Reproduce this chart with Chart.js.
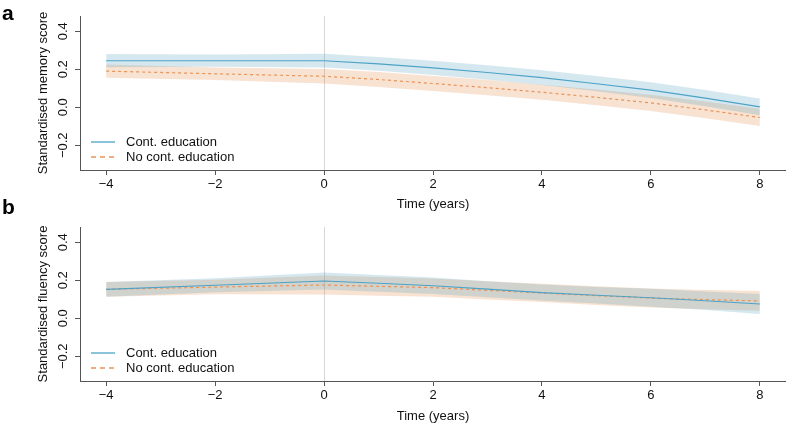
<!DOCTYPE html>
<html>
<head>
<meta charset="utf-8">
<script src="https://cdn.jsdelivr.net/npm/chart.js@4.4.1/dist/chart.umd.min.js"></script>
<style>
  body { margin: 0; background: #fff; }
  #wrap { position: relative; width: 786px; height: 424px; font-family: "Liberation Sans", Arial, sans-serif; }
  .panel { position: absolute; left: 0; width: 786px; height: 212px; }
  .letter { position: absolute; left: 2px; font-weight: bold; font-size: 21px; line-height: 1; color: #000; }
</style>
</head>
<body>
<div id="wrap">
  <div class="panel" style="top:0"><canvas id="chart-a" width="786" height="212"></canvas></div>
  <div class="panel" style="top:212px"><canvas id="chart-b" width="786" height="212"></canvas></div>
  <div class="letter" style="top:2px">a</div>
  <div class="letter" style="top:196px">b</div>
</div>
<script>
// datos
const time = [-4, -2, 0, 1, 2, 3, 4, 5, 6, 7, 8];
const xTicks = [-4, -2, 0, 2, 4, 6, 8];
const yTicks = [-0.2, 0, 0.2, 0.4];
const seriesNames = ["Cont. education", "No cont. education"];

// panel a - memoria
const memCont   = [0.245, 0.245, 0.245, 0.228, 0.207, 0.183, 0.156, 0.124, 0.090, 0.048, 0.002];
const memContLo = [0.210, 0.213, 0.209, 0.192, 0.170, 0.145, 0.117, 0.084, 0.049, 0.005, -0.042];
const memContHi = [0.280, 0.277, 0.281, 0.264, 0.244, 0.221, 0.195, 0.164, 0.131, 0.091, 0.046];
const memNo     = [0.190, 0.176, 0.163, 0.146, 0.125, 0.103, 0.079, 0.052, 0.023, -0.014, -0.054];
const memNoLo   = [0.155, 0.143, 0.125, 0.107, 0.086, 0.063, 0.039, 0.010, -0.020, -0.058, -0.099];
const memNoHi   = [0.225, 0.209, 0.201, 0.185, 0.164, 0.143, 0.119, 0.094, 0.066, 0.030, -0.008];

// panel b - fluidez
const fluCont   = [0.152, 0.174, 0.196, 0.184, 0.171, 0.153, 0.135, 0.121, 0.108, 0.092, 0.075];
const fluContLo = [0.113, 0.137, 0.151, 0.140, 0.128, 0.111, 0.093, 0.077, 0.061, 0.043, 0.023];
const fluContHi = [0.191, 0.211, 0.241, 0.228, 0.214, 0.195, 0.177, 0.165, 0.155, 0.141, 0.127];
const fluNo     = [0.152, 0.164, 0.175, 0.168, 0.161, 0.147, 0.133, 0.119, 0.106, 0.098, 0.091];
const fluNoLo   = [0.113, 0.126, 0.125, 0.119, 0.113, 0.099, 0.085, 0.070, 0.056, 0.047, 0.039];
const fluNoHi   = [0.191, 0.202, 0.225, 0.217, 0.209, 0.195, 0.181, 0.168, 0.156, 0.149, 0.143];

const FONT = "'Liberation Sans', Arial, sans-serif";
const MINUS = "\u2212";

function fmtX(v) {
    return v < 0 ? MINUS + Math.abs(v) : String(v);
}
function fmtY(v) {
    return v < 0 ? MINUS + Math.abs(v).toFixed(1) : v.toFixed(1);
}

// etiquetas del eje y (rotadas) y leyenda dentro del area
const panelText = {
    id: "panelText",
    afterDraw(chart) {
        const ctx = chart.ctx;
        const ys = chart.scales.y;
        const area = chart.chartArea;
        ctx.save();
        ctx.fillStyle = "#111";
        ctx.font = "13px " + FONT;
        ctx.textAlign = "center";
        ctx.textBaseline = "middle";
        yTicks.forEach((v) => {
            ctx.save();
            ctx.translate(63, ys.getPixelForValue(v));
            ctx.rotate(-Math.PI / 2);
            ctx.fillText(fmtY(v), 0, 0);
            ctx.restore();
        });

        // leyenda
        const ds = chart.data.datasets;
        ctx.textAlign = "left";
        [0, 1].forEach((i) => {
            const y = area.bottom - 28 + i * 15;
            ctx.beginPath();
            ctx.strokeStyle = ds[i].borderColor;
            ctx.lineWidth = 1.3;
            ctx.setLineDash(i === 0 ? [] : [5, 4]);
            ctx.moveTo(area.left + 11, y);
            ctx.lineTo(area.left + 35, y);
            ctx.stroke();
            ctx.setLineDash([]);
            ctx.fillStyle = "#111";
            ctx.fillText(ds[i].label, area.left + 46, y);
        });
        ctx.restore();
    }
};

function makeChart(id, yTitle, cont, contLo, contHi, noEd, noLo, noHi, topPad) {
    const pts = (arr) => time.map((t, i) => ({ x: t, y: arr[i] }));
    const band = (arr, color, fill, order) => ({
        data: pts(arr),
        borderColor: "rgba(0,0,0,0)",
        borderWidth: 0,
        pointRadius: 0,
        backgroundColor: color,
        fill: fill,
        order: order
    });

    new Chart(document.getElementById(id), {
        type: "line",
        data: {
            datasets: [
                { label: seriesNames[0], data: pts(cont), borderColor: "#4da3c7", borderWidth: 1.1,
                  pointRadius: 0, fill: false, order: 0 },
                { label: seriesNames[1], data: pts(noEd), borderColor: "#e8955a", borderWidth: 1.2,
                  borderDash: [3, 3], pointRadius: 0, fill: false, order: 1 },
                band(contHi, "rgba(91,163,191,0.25)", "+1", 2),
                band(contLo, "rgba(0,0,0,0)", false, 2),
                band(noHi, "rgba(227,139,75,0.25)", "+1", 3),
                band(noLo, "rgba(0,0,0,0)", false, 3)
            ]
        },
        options: {
            responsive: false,
            animation: false,
            layout: { padding: { top: topPad, left: 0, right: 0, bottom: 0 } },
            plugins: {
                legend: { display: false },
                tooltip: { enabled: false }
            },
            scales: {
                x: {
                    type: "linear",
                    min: -4.48,
                    max: 8.48,
                    afterBuildTicks: (s) => { s.ticks = xTicks.map((v) => ({ value: v })); },
                    afterFit: (s) => { s.height = 212 - 170 + (16 - topPad); },
                    ticks: {
                        autoSkip: false, maxRotation: 0, padding: 2, color: "#111",
                        font: { family: FONT, size: 13 },
                        callback: (v) => fmtX(v)
                    },
                    grid: {
                        color: (c) => (c.tick && c.tick.value === 0 ? "#d6d6d6" : "rgba(0,0,0,0)"),
                        tickColor: "#555",
                        tickLength: 5,
                        lineWidth: 1
                    },
                    border: { color: "#555", width: 1 },
                    title: {
                        display: true, text: "Time (years)", color: "#111",
                        font: { family: FONT, size: 13 }, padding: 0
                    }
                },
                y: {
                    min: -0.33,
                    max: 0.48,
                    afterBuildTicks: (s) => { s.ticks = yTicks.map((v) => ({ value: v })); },
                    afterFit: (s) => { s.width = 80; },
                    ticks: { color: "rgba(0,0,0,0)", font: { family: FONT, size: 13 } },
                    grid: { drawOnChartArea: false, tickColor: "#555", tickLength: 5 },
                    border: { color: "#555", width: 1 },
                    title: {
                        display: true, text: yTitle, color: "#111",
                        font: { family: FONT, size: 13 }, padding: { top: 36, bottom: 0 }
                    }
                }
            }
        },
        plugins: [panelText]
    });
}

makeChart("chart-a", "Standardised memory score", memCont, memContLo, memContHi, memNo, memNoLo, memNoHi, 16);
makeChart("chart-b", "Standardised fluency score", fluCont, fluContLo, fluContHi, fluNo, fluNoLo, fluNoHi, 15);
</script>
</body>
</html>
